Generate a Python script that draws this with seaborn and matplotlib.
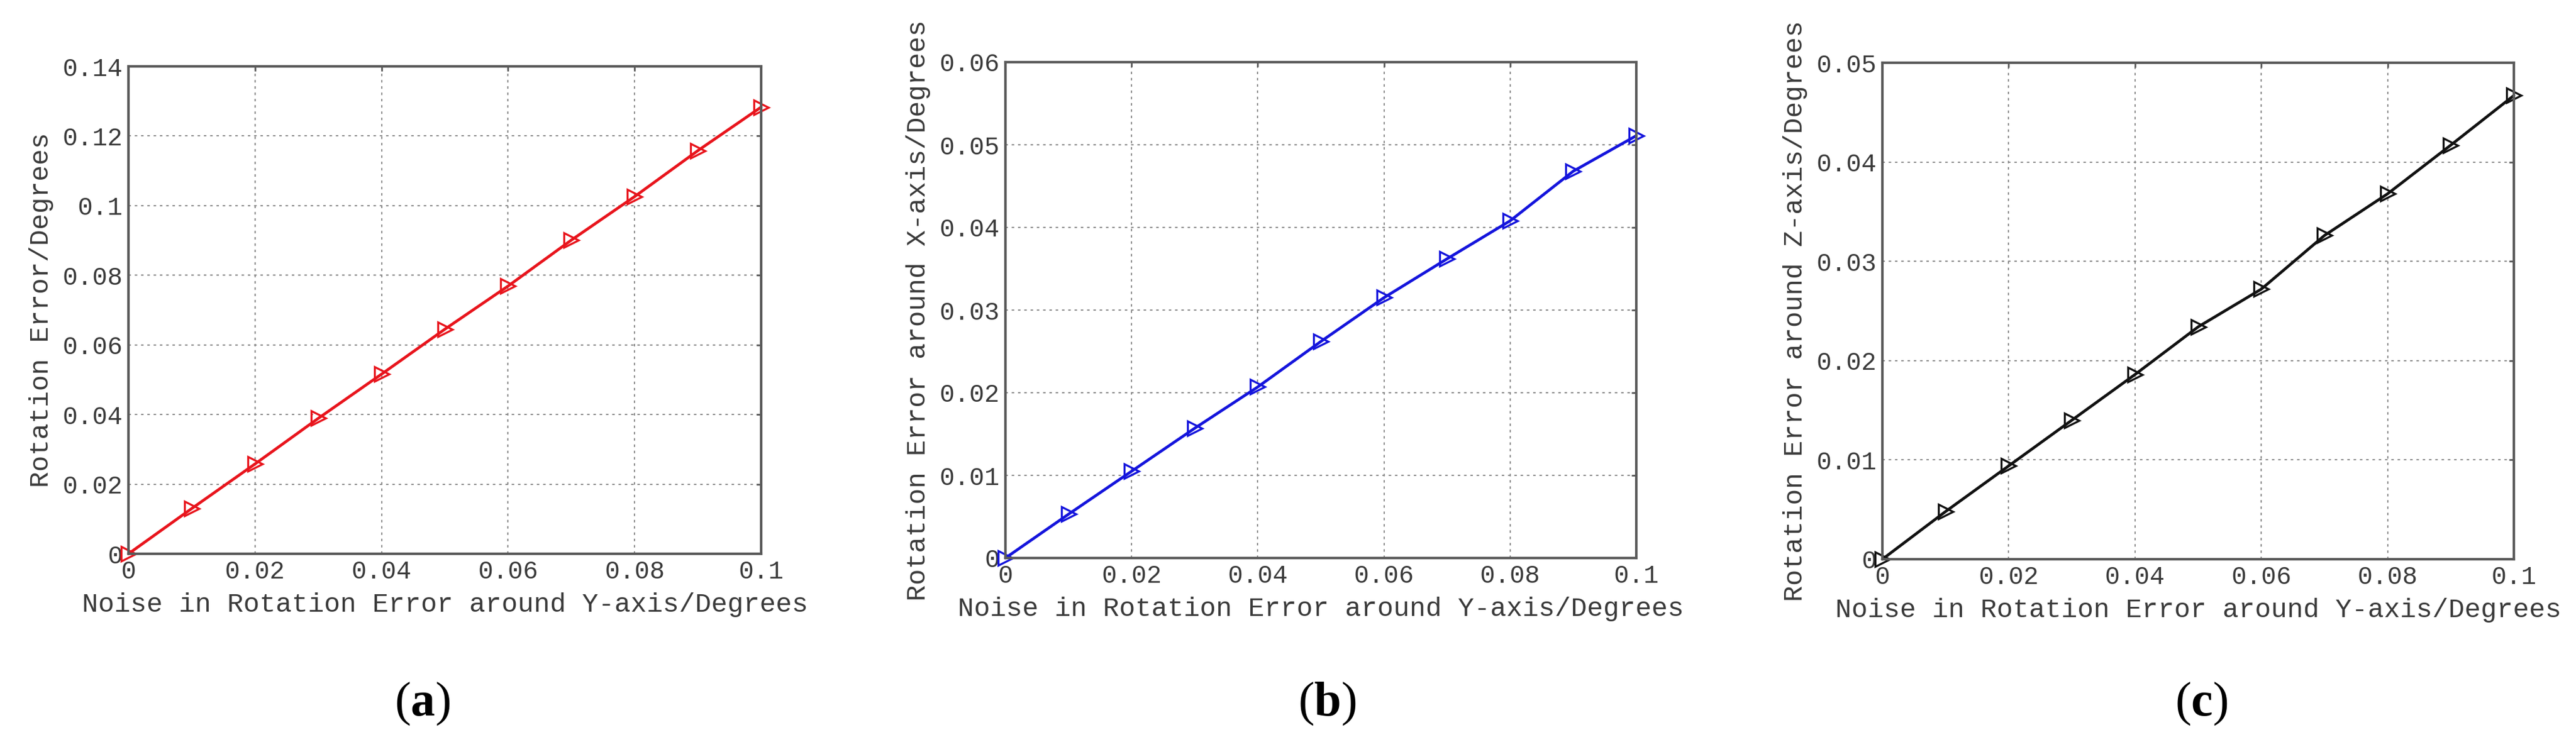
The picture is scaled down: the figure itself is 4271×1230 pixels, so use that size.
import matplotlib

matplotlib.use("Agg")
import matplotlib.pyplot as plt
import seaborn as sns

# noise levels on the x axis (degrees)
noise = [0, 0.01, 0.02, 0.03, 0.04, 0.05, 0.06, 0.07, 0.08, 0.09, 0.1]

err_total = [0, 0.0130, 0.0258, 0.0389, 0.0516, 0.0645, 0.0769, 0.0901, 0.1026, 0.1158, 0.1283]
err_x = [0, 0.0053, 0.0105, 0.0157, 0.0207, 0.0262, 0.0315, 0.0362, 0.0408, 0.0468, 0.0511]
err_z = [0, 0.0048, 0.0094, 0.0140, 0.0186, 0.0234, 0.0272, 0.0326, 0.0368, 0.0417, 0.0467]

x_ticks = [0, 0.02, 0.04, 0.06, 0.08, 0.1]
x_tick_labels = ["0", "0.02", "0.04", "0.06", "0.08", "0.1"]

a_y_ticks = [0, 0.02, 0.04, 0.06, 0.08, 0.1, 0.12, 0.14]
a_y_labels = ["0", "0.02", "0.04", "0.06", "0.08", "0.1", "0.12", "0.14"]
b_y_ticks = [0, 0.01, 0.02, 0.03, 0.04, 0.05, 0.06]
b_y_labels = ["0", "0.01", "0.02", "0.03", "0.04", "0.05", "0.06"]
c_y_ticks = [0, 0.01, 0.02, 0.03, 0.04, 0.05]
c_y_labels = ["0", "0.01", "0.02", "0.03", "0.04", "0.05"]

x_label = "Noise in Rotation Error around Y-axis/Degrees"

sns.set_theme(style="white")
plt.rcParams["font.family"] = ["Liberation Mono", "DejaVu Sans Mono"]
plt.rcParams["mathtext.fontset"] = "custom"
plt.rcParams["mathtext.rm"] = "Liberation Serif"
plt.rcParams["mathtext.bf"] = "Liberation Serif:bold"

W, H = 4271, 1230
fig = plt.figure(figsize=(W / 100, H / 100), dpi=100)
fig.patch.set_facecolor("white")

TEXT = "#3a3a3a"
EDGE = "#5a5a5a"

panels = [
    # (left, right, top, bottom) in px, data, colour, ylabel, ticks, labels, tag, tag x
    ((213, 1262, 110, 918), err_total, "#e8141c", "Rotation Error/Degrees",
     a_y_ticks, a_y_labels, "a", 700),
    ((1667, 2713, 103, 925), err_x, "#1414dc", "Rotation Error around X-axis/Degrees",
     b_y_ticks, b_y_labels, "b", 2200),
    ((3121, 4168, 104, 927), err_z, "#111111", "Rotation Error around Z-axis/Degrees",
     c_y_ticks, c_y_labels, "c", 3650),
]

for (l, r, t, b), err, color, ylab, yt, ytl, tag, tag_x in panels:
    ax = fig.add_axes([l / W, 1 - b / H, (r - l) / W, (b - t) / H])
    ax.set_facecolor("white")
    sns.lineplot(
        x=noise, y=err, ax=ax, color=color, lw=3.4,
        marker=">", markersize=17, markerfacecolor="none",
        markeredgecolor=color, markeredgewidth=2.4, clip_on=False,
    )
    ax.set_xlim(0, 0.1)
    ax.set_ylim(0, yt[-1])
    ax.set_xticks(x_ticks, x_tick_labels)
    ax.set_yticks(yt, ytl)
    ax.grid(True, color="#8c8c8c", linestyle=(0, (2, 3)), linewidth=1.5)
    ax.set_axisbelow(True)
    ax.tick_params(
        direction="in", length=6, width=2, color=EDGE, top=True, right=True,
        labelsize=30, labelcolor=TEXT, pad=7,
    )
    for sp in ax.spines.values():
        sp.set_visible(True)
        sp.set_color(EDGE)
        sp.set_linewidth(3)
    ax.set_xlabel(x_label, fontsize=32, color=TEXT, labelpad=10)
    ax.set_ylabel(ylab, fontsize=32, color=TEXT, labelpad=10)

    fig.text(tag_x / W, 1 - 1167 / H, rf"($\mathbf{{{tag}}}$)",
             family="Liberation Serif", fontsize=58, ha="center", va="center",
             color="black")

fig.savefig("out.png", dpi=100)
